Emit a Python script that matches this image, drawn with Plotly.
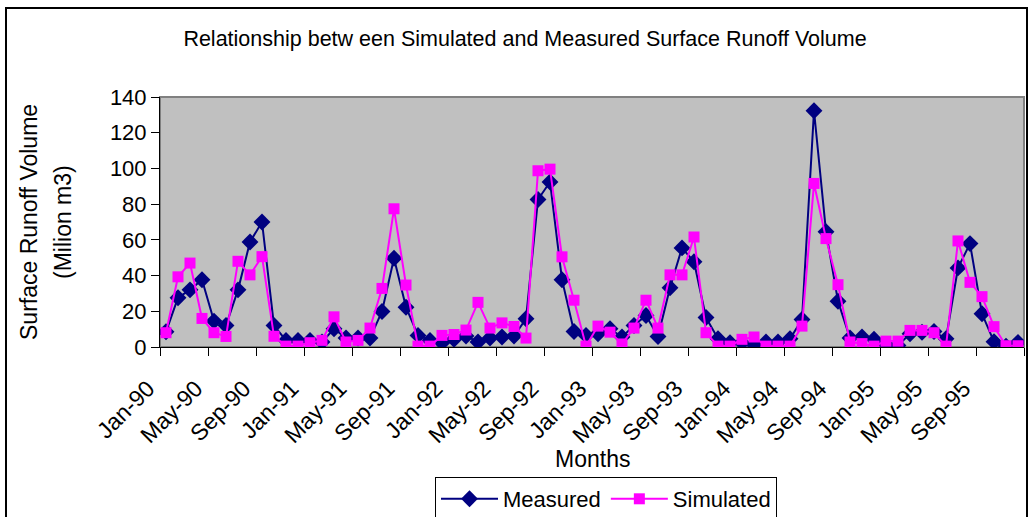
import plotly.graph_objects as go

# monthly categories Jan-90 .. Dec-95
month_names = ['Jan', 'Feb', 'Mar', 'Apr', 'May', 'Jun', 'Jul', 'Aug', 'Sep', 'Oct', 'Nov', 'Dec']
years = ['90', '91', '92', '93', '94', '95']
months = [m + '-' + y for y in years for m in month_names]

measured = [8.5, 27.6, 32, 37.7, 14.5, 12, 32, 58.8, 70, 12, 3.7, 3.7,
            3.7, 2.8, 10.2, 5, 5, 5, 19.9, 49.7, 22.3, 6.5, 3.7, 2.4,
            4.3, 6.1, 2.8, 5, 5.6, 6.1, 15.8, 82.6, 92.4, 37.7, 8.7, 6.5,
            7.4, 10.2, 5.6, 12, 17.6, 5.9, 33.2, 55.5, 47.7, 16.5, 4.6, 2.4,
            2.4, 1.3, 2.8, 2.8, 4.6, 15.4, 132.3, 64.6, 25.6, 5, 5.6, 4.3,
            1.3, 0.9, 7.4, 8.3, 8.7, 4.6, 44.3, 57.9, 18.6, 3, 0.5, 2.6]
simulated = [8, 39.3, 47, 16, 8, 5.9, 48, 40.4, 50.6, 6, 0.5, 0.5,
             2.4, 3.7, 16.9, 2.8, 3.7, 10.6, 32.8, 77.4, 34.7, 0.5, 0.5, 6.5,
             7, 9.5, 25, 10.6, 13.5, 11.5, 5, 98.7, 99.6, 50.5, 26.2, 0.5,
             11.7, 8.3, 1.7, 10.6, 26.2, 10.6, 40.4, 40.4, 61.6, 8, 0.5, 0.5,
             4.3, 5.6, 0.5, 0.5, 0.5, 11.7, 91.6, 60.7, 34.9, 2.8, 1.9, 0.5,
             3.3, 3.3, 9.3, 9.3, 8, 0.5, 59.4, 36.2, 28.2, 11.4, 0.7, 0.7]

idx = list(range(len(months)))
tick_idx = idx[::4]
tick_text = months[::4]
y_ticks = [0, 20, 40, 60, 80, 100, 120, 140]

fnt = 'Arial, Liberation Sans, sans-serif'

fig = go.Figure()
fig.add_trace(go.Scatter(x=idx, y=measured, name='Measured', mode='lines+markers',
                         line=dict(color='#000080', width=2),
                         marker=dict(symbol='diamond', size=13, color='#000080')))
fig.add_trace(go.Scatter(x=idx, y=simulated, name='Simulated', mode='lines+markers',
                         line=dict(color='#FF00FF', width=2),
                         marker=dict(symbol='square', size=11, color='#FF00FF')))

# outer chart border and plot frame
fig.add_shape(type='rect', xref='paper', yref='paper',
              x0=(6 - 160) / 864, x1=(1027 - 160) / 864,
              y0=(347 - 530) / 250, y1=(347 - 8) / 250,
              line=dict(color='black', width=2), fillcolor='rgba(0,0,0,0)', layer='below')
fig.add_shape(type='rect', xref='paper', yref='paper', x0=0, x1=1, y0=0, y1=1,
              line=dict(color='#808080', width=2), fillcolor='rgba(0,0,0,0)', layer='below')

# y axis title, two lines
fig.add_annotation(text='Surface Runoff Volume', textangle=-90,
                   xref='paper', yref='paper', x=(29 - 160) / 864, y=0.5,
                   xanchor='center', yanchor='middle', showarrow=False,
                   font=dict(size=23, color='black', family=fnt))
fig.add_annotation(text='(Milion m3)', textangle=-90,
                   xref='paper', yref='paper', x=(63 - 160) / 864, y=0.5,
                   xanchor='center', yanchor='middle', showarrow=False,
                   font=dict(size=23, color='black', family=fnt))
fig.add_annotation(text='Months', xref='paper', yref='paper',
                   x=0.5, y=(347 - 459) / 250, xanchor='center', yanchor='middle',
                   showarrow=False, font=dict(size=23, color='black', family=fnt))

fig.update_layout(
    width=1034, height=517,
    margin=dict(l=160, r=10, t=97, b=170),
    paper_bgcolor='white', plot_bgcolor='#C0C0C0',
    font=dict(family=fnt, color='black'),
    title=dict(text='Relationship betw een Simulated and Measured Surface Runoff Volume',
               x=525 / 1034, xanchor='center', y=1 - 38 / 517, yanchor='middle',
               font=dict(size=21.5, color='black')),
    showlegend=True,
    legend=dict(orientation='h', xref='container', yref='container',
                x=606 / 1034, xanchor='center', y=1 - 477 / 517, yanchor='top',
                bgcolor='white', bordercolor='black', borderwidth=1,
                itemwidth=57, font=dict(size=22)),
)
fig.update_xaxes(range=[-0.5, 71.5], tickmode='array', tickvals=tick_idx, ticktext=tick_text,
                 tickangle=-45, ticks='', showgrid=False, zeroline=False, automargin=False,
                 showline=True, linecolor='black', linewidth=1,
                 tickfont=dict(size=23), ticklabelshift=-18, ticklabelstandoff=18,
                 minor=dict(tickmode='array', tickvals=[i - 0.5 for i in tick_idx] + [71.5],
                            ticks='outside', ticklen=8, tickcolor='black', showgrid=False))
fig.update_yaxes(range=[0, 140], tickvals=y_ticks, ticks='outside', ticklen=8,
                 tickcolor='black', showgrid=False, zeroline=False, automargin=False,
                 showline=True, linecolor='black', linewidth=1,
                 tickfont=dict(size=22))

fig.write_html('out.html', config={'displayModeBar': False},
               post_script="document.body.style.margin='0';")
